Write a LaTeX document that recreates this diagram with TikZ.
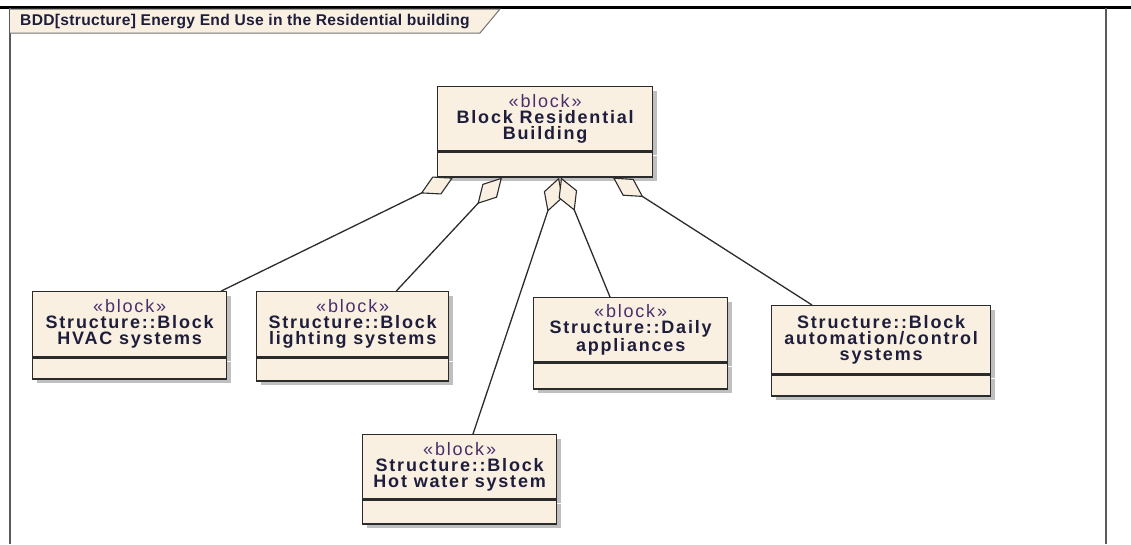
\documentclass[tikz,border=0pt]{standalone}
\usepackage{fontspec}
\setmainfont{Liberation Sans}
\newfontfamily\blockfont[LetterSpace=10]{Liberation Sans}
\newfontfamily\titlefont[LetterSpace=2]{Liberation Sans}
\usetikzlibrary{positioning,arrows.meta,shadows}
\definecolor{blockfill}{HTML}{FAF0E2}
\definecolor{blockline}{HTML}{2B2B2B}
\definecolor{nametext}{HTML}{1E1E3C}
\definecolor{stereotext}{HTML}{4A2E6A}
\newcommand{\stereo}{{\color{stereotext}\mdseries «block»}}

\begin{document}
\begin{tikzpicture}[
  x=1pt,y=-1pt,
  block/.style={draw=blockline,fill=blockfill,line width=1.3pt,inner sep=0pt,align=center,
    font=\blockfont\fontsize{18}{16}\selectfont\bfseries,text=nametext,
    drop shadow={shadow xshift=4pt,shadow yshift=-4pt,fill=black!25,opacity=1}},
  part/.style={block,below=0pt of #1},
  agg/.style={draw=blockline,line width=1.3pt,
    {Diamond[length=36pt,width=20pt,fill=blockfill,line width=1.1pt]}-}
]
  \useasboundingbox (0,0) rectangle (1131,544);
  \draw[line width=3pt] (0,7) -- (1131,7);
  \draw[black!65,line width=2pt] (10,8) -- (10,544);
  \draw[black!65,line width=2pt] (1106,8) -- (1106,544);
  \draw[fill=blockfill,draw=black!55,line width=1pt] (10,9) -- (500,9) -- (480,33) -- (10,33);
  \node[anchor=west,inner sep=0pt,text=nametext,font=\titlefont\fontsize{15.6}{16}\selectfont\bfseries]
    (title) at (20,21) {BDD[structure] Energy End Use in the Residential building};

  \node[block,anchor=north west,minimum width=215pt,minimum height=64pt] (top) at (437,86)
    {\stereo\\Block Residential\\Building};
  \node[part=top,minimum width=215pt,minimum height=25pt] (topc) {};

  \node[block,anchor=north west,minimum width=194pt,minimum height=65pt] (hvac) at (32,291)
    {\stereo\\Structure::Block\\HVAC systems};
  \node[part=hvac,minimum width=194pt,minimum height=21pt] (hvacc) {};

  \node[block,anchor=north west,minimum width=192pt,minimum height=65pt] (light) at (256,291)
    {\stereo\\Structure::Block\\lighting systems};
  \node[part=light,minimum width=192pt,minimum height=23pt] (lightc) {};

  \node[block,anchor=north west,minimum width=194pt,minimum height=64pt] (daily) at (533,297)
    {\stereo\\Structure::Daily\\appliances};
  \node[part=daily,minimum width=194pt,minimum height=26pt] (dailyc) {};

  \node[block,anchor=north west,minimum width=219pt,minimum height=68pt] (auto) at (771,305)
    {Structure::Block\\automation/control\\systems};
  \node[part=auto,minimum width=219pt,minimum height=21pt] (autoc) {};

  \node[block,anchor=north west,minimum width=194pt,minimum height=64pt] (hot) at (362,434)
    {\stereo\\Structure::Block\\Hot water system};
  \node[part=hot,minimum width=194pt,minimum height=24pt] (hotc) {};

  \draw[agg] ([xshift=16pt]topc.south west) -- ([xshift=-6pt]hvac.north east);
  \draw[agg] ([xshift=65pt]topc.south west) -- ([xshift=-53pt]light.north east);
  \draw[agg] ([xshift=122pt]topc.south west) -- ([xshift=111pt]hot.north west);
  \draw[agg] ([xshift=124pt]topc.south west) -- ([xshift=77pt]daily.north west);
  \draw[agg] ([xshift=176pt]topc.south west) -- ([xshift=41pt]auto.north west);
\end{tikzpicture}
\end{document}
